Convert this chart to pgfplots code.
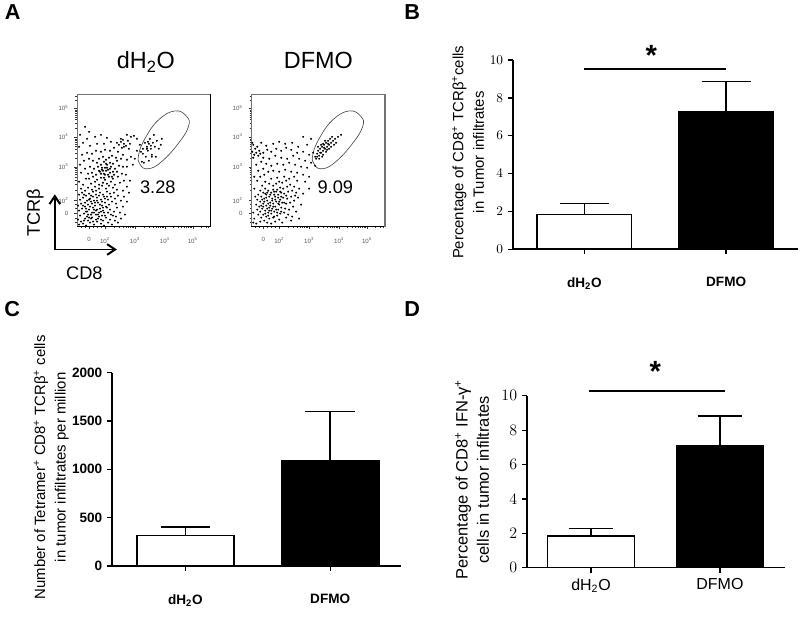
\documentclass[border=0pt]{standalone}
\usepackage{pgfplots}
\pgfplotsset{compat=1.18}
\usepackage{fontspec}
\setmainfont{Liberation Sans}
\usetikzlibrary{arrows.meta}
\newcommand{\subtwo}{\textsubscript{2}}
\newcommand{\sx}[1]{10\textsuperscript{#1}}
\pgfplotsset{
  barpanel/.style={
    scale only axis, axis lines*=left, axis line style={-,line width=1.1pt},
    clip=false, ymin=0, xtick={0,1},
    tick align=outside, major tick length=3.75pt, tick style={black,line width=1pt},
    xtick pos=bottom, ytick pos=left,
  },
  whitebar/.style={ybar,fill=white,draw=black},
  blackbar/.style={ybar,fill=black,draw=black},
  flow/.style={
    scale only axis, width=100.3pt, height=99.75pt,
    xmin=0,xmax=133.7,ymin=0,ymax=133,
    xtick={12,28,58,88,116}, xticklabels={0,\sx2,\sx3,\sx4,\sx5},
    ytick={13,26,60,90,119}, yticklabels={0,\sx2,\sx3,\sx4,\sx5},
    minor xtick={4,8,16,20,24,37,42,46,49,51,53,55,56,67,72,76,79,81,83,85,86,96,101,104,107,109,111,113,114,124,129,132},
    minor ytick={4,8,18,22,36,42,46,49,52,54,56,58,69,74,78,81,83,85,87,88,99,104,108,110,112,114,116,117,127,131},
    xtick pos=bottom, ytick pos=left, tick align=outside,
    major tick length=2pt, minor tick length=1.2pt,
    tick style={black!80,line width=0.35pt},
    axis line style={line width=0.5pt,black!55},
    tick label style={font=\fontsize{4.6}{5}\selectfont,text=black!65},
    xticklabel style={yshift=-2.6pt}, yticklabel style={xshift=-1pt},
    clip=false,
  },
  dots/.style={only marks,mark=*,mark size=0.52pt,mark options={draw=none,fill=black,fill opacity=0.72}},
}
\begin{document}
\begin{tikzpicture}[x=0.75pt,y=0.75pt]
\path (0,0) rectangle (800,619);
\coordinate (FA) at (75,393.7);
\coordinate (FB) at (249.7,393.7);
\coordinate (B) at (512,371);
\coordinate (C) at (110,53.3);
\coordinate (D) at (526,51.7);

% panel A, left
\begin{axis}[flow, at={(FA)}, anchor=south west]
\addplot[dots] coordinates {
(2,2)(6,3)(9,1)(13,4)(17,2)(20,5)(24,3)(27,1)(31,4)(35,2)(38,6)
(1,7)(4,5)(8,8)(11,6)(15,9)(19,7)(22,10)(26,6)(29,9)(33,7)(36,11)(41,4)
(3,11)(7,13)(10,10)(14,12)(17,14)(21,12)(24,15)(28,11)(31,14)(34,12)(39,10)(43,14)
(2,16)(5,18)(9,15)(12,17)(16,19)(19,16)(23,18)(26,16)(30,19)(33,17)(37,15)(40,19)
(1,21)(4,23)(8,20)(11,22)(14,25)(18,21)(21,24)(25,21)(28,24)(32,22)(35,25)(39,23)
(3,27)(6,29)(10,26)(13,28)(17,26)(20,29)(24,27)(27,30)(31,27)(34,30)(38,28)(44,26)
(2,32)(5,34)(9,31)(12,33)(16,35)(19,32)(23,34)(26,32)(30,35)(33,33)(37,34)(41,31)
(4,38)(8,36)(11,39)(15,37)(18,40)(22,38)(25,41)(29,38)(32,41)(36,39)(40,37)(46,36)
(7,6)(12,9)(16,5)(21,8)(25,11)(10,15)(15,14)(20,17)(27,14)(13,20)(18,24)(23,22)(29,20)(8,24)(12,27)(16,30)(22,31)(28,28)(6,21)(19,12)(14,8)(24,7)(11,12)(17,17)(22,14)(26,19)(9,18)(15,23)(20,26)(25,25)(7,32)(14,31)(19,36)(30,30)
(14,43)(18,45)(22,42)(26,44)(30,43)(34,45)(38,42)(43,44)(12,48)(16,50)(20,47)(24,49)(28,47)(32,50)(36,48)(41,50)(47,46)
(15,54)(19,52)(23,55)(27,53)(29,56)(33,54)(37,52)(40,55)(45,53)(17,58)(21,60)(25,57)(28,59)(31,57)(34,60)(38,58)(42,61)(13,60)
(20,64)(24,62)(27,65)(30,62)(33,64)(36,63)(40,66)(46,60)(22,68)(26,70)(29,67)(32,69)(35,71)(39,69)(44,68)
(28,52)(31,52)(26,56)(33,58)(30,59)(24,53)(36,55)(29,63)(25,59)(27,49)(22,56)(35,50)
(2,45)(6,42)(9,48)(4,54)(8,58)(11,53)(3,62)(7,66)(12,68)(16,66)(5,72)(10,74)(15,73)(19,76)(24,75)(28,77)(33,76)(37,79)(41,75)(46,72)(50,67)(2,80)(6,84)(13,81)(20,83)(27,83)(34,85)(40,84)(47,80)(52,78)(10,88)(18,90)(30,89)(44,88)(50,60)(49,52)(54,70)(56,62)(50,40)(53,46)(47,30)(50,25)(46,20)(48,12)(44,8)(52,34)
(3,92)(12,95)(24,92)(8,100)
(42,82)(45,79)(47,83)(44,85)(49,81)(46,87)(51,86)(54,90)(57,91)(60,88)(53,83)(50,92)(63,82)(66,73)(60,76)(70,78)(58,68)(75,70)(65,65)
(70,80)(72,83)(74,78)(68,84)(71,76)(76,84)(66,78)(73,88)(78,80)(80,86)(75,72)(69,70)(64,75)(82,78)(77,92)(72,66)(84,82)(67,64)(79,70)(74,81)(71,85)(70,78)(85,88)
};
\addplot[smooth cycle,tension=0.75,black!75,line width=0.45pt] coordinates {(98.3,116)(110,110.3)(111.7,100.3)(101.7,83.6)(85,65.3)(71.7,58)(63.3,62)(61.7,72)(68.3,88.6)(81.7,107)};
\draw[black,line width=0.5pt] (rel axis cs:0,0)--(rel axis cs:1,0)--(rel axis cs:1,1);
\end{axis}

% panel A, right
\begin{axis}[flow, at={(FB)}, anchor=south west]
\addplot[dots] coordinates {
(7,12)(10,9)(13,6)(16,4)(20,3)(24,5)(28,7)(31,4)(35,9)(6,17)(9,15)(12,12)(15,10)(18,8)(22,9)(26,11)(29,13)(33,14)(37,12)(41,10)
(5,22)(8,20)(11,18)(14,16)(17,14)(20,13)(23,15)(27,17)(30,19)(34,18)(38,17)(42,20)
(6,27)(9,25)(12,23)(15,21)(18,19)(21,18)(24,20)(28,22)(31,24)(35,23)(39,24)(43,26)
(7,32)(10,30)(13,28)(16,26)(19,24)(22,23)(25,25)(29,27)(32,29)(36,28)(40,30)(44,31)(47,29)
(9,36)(12,34)(15,32)(18,30)(21,28)(24,30)(27,32)(30,34)(33,33)(37,35)(41,36)(45,34)
(11,41)(14,38)(17,36)(20,34)(23,35)(26,37)(29,39)(32,38)(36,40)(39,42)(43,40)
(14,45)(18,43)(22,41)(25,43)(28,45)(31,44)(35,46)(38,48)(20,48)(26,49)(33,50)
(14,13)(17,11)(20,16)(23,10)(26,14)(12,20)(16,18)(19,21)(22,20)(25,17)(28,25)(13,25)(17,23)(21,26)(24,27)(27,23)(15,29)(19,32)(23,32)(27,29)(30,30)(16,34)(22,37)(25,35)(29,35)(11,27)(33,24)(35,31)(18,16)(14,33)(10,21)(30,15)
(2,4)(5,3)(9,5)(3,8)(2,14)(4,30)(3,38)(6,46)(9,50)(13,52)(40,6)(45,15)(50,22)(48,38)(52,33)(46,46)(43,50)(54,45)(58,38)(48,8)
(3,50)(7,56)(12,58)(17,55)(22,56)(28,55)(34,57)(40,55)(46,54)(52,52)(58,50)(5,62)(10,65)(15,63)(20,61)(26,63)(32,62)(38,64)(44,62)(50,60)(56,59)(2,69)(7,71)(12,69)(18,68)(24,71)(30,69)(36,68)(42,71)(48,68)(54,66)(60,64)(64,61)
(1,75)(4,78)(8,76)(12,74)(16,77)(20,75)(25,78)(30,76)(35,79)(40,77)(46,74)(52,75)(58,72)(2,82)(6,80)(10,84)(15,81)(22,83)(28,85)(34,83)(41,84)(47,80)(56,82)(3,72)(1,84)(5,74)(9,73)
(62,74)(66,70)(60,88)(52,90)
(64,70)(66,73)(68,71)(67,76)(70,74)(69,78)(72,76)(71,80)(74,78)(73,82)(76,80)(75,84)(78,82)(77,86)(80,84)(79,88)(82,86)(84,88)(87,90)(65,68)(68,68)(72,72)(75,75)(78,78)(80,80)(70,82)(74,86)(83,82)(85,84)(69,74)(73,79)(76,77)(72,83)(77,83)(67,80)(71,70)(90,92)(81,90)
};
\addplot[smooth cycle,tension=0.75,black!75,line width=0.45pt] coordinates {(98.3,116)(110,110.3)(111.7,100.3)(101.7,83.6)(85,65.3)(71.7,58)(63.3,62)(61.7,72)(68.3,88.6)(81.7,107)};
\draw[black,line width=0.5pt] (rel axis cs:0,0)--(rel axis cs:1,0);
\draw[black!55,line width=1.4pt] (rel axis cs:1,0)--(rel axis cs:1,1);
\end{axis}

% panel B
\begin{axis}[barpanel, at={(B)}, anchor=south west, width=214.5pt, height=142.3pt,
  xmin=-0.505, xmax=1.507, ymax=10, ytick={0,2,4,6,8,10},
  xticklabels={dH\subtwo O,DFMO},
  tick label style={font=\fontsize{10.2}{12}\selectfont\bfseries},
  xticklabel style={yshift=-14pt},
  ylabel={Percentage of CD8\textsuperscript{+} TCRβ\textsuperscript{+}cells\\in Tumor infiltrates},
  ylabel style={font=\fontsize{11.2}{15.5}\selectfont, align=center, at={(axis description cs:-0.157,0.512)}, anchor=center},
]
\addplot[whitebar, bar width=71pt, line width=1.3pt, error bars/.cd, y dir=plus, y explicit,
  error bar style={line width=1.1pt}, error mark options={rotate=90,mark size=18.4pt,line width=1.1pt}]
  coordinates {(0,1.84) +- (0,0.58)};
\addplot[blackbar, bar width=71pt, line width=1.3pt, error bars/.cd, y dir=plus, y explicit,
  error bar style={line width=1.1pt}, error mark options={rotate=90,mark size=18.4pt,line width=1.1pt}]
  coordinates {(1,7.27) +- (0,1.60)};
\addplot[black,line width=1.4pt,no marks] coordinates {(0,9.54)(1,9.54)};
\end{axis}

% panel C
\begin{axis}[barpanel, at={(C)}, anchor=south west, width=217.5pt, height=145.5pt,
  xmin=-0.507, xmax=1.49, ymax=2000, ytick={0,500,1000,1500,2000},
  yticklabels={0,500,1000,1500,2000},
  xticklabels={dH\subtwo O,DFMO},
  tick label style={font=\fontsize{10.2}{12}\selectfont\bfseries},
  xticklabel style={yshift=-14pt},
  ylabel={Number of Tetramer\textsuperscript{+} CD8\textsuperscript{+} TCRβ\textsuperscript{+} cells\\in tumor infiltrates per million},
  ylabel style={font=\fontsize{11.2}{15.5}\selectfont, align=center, at={(axis description cs:-0.21,0.51)}, anchor=center},
]
\addplot[whitebar, bar width=73pt, line width=1.3pt, error bars/.cd, y dir=plus, y explicit,
  error bar style={line width=1.1pt}, error mark options={rotate=90,mark size=18.6pt,line width=1.1pt}]
  coordinates {(0,316) +- (0,86)};
\addplot[blackbar, bar width=73pt, line width=1.3pt, error bars/.cd, y dir=plus, y explicit,
  error bar style={line width=1.1pt}, error mark options={rotate=90,mark size=18.6pt,line width=1.1pt}]
  coordinates {(1,1090) +- (0,505)};
\end{axis}

% panel D
\begin{axis}[barpanel, at={(D)}, anchor=south west, width=194.25pt, height=129.2pt,
  xmin=-0.498, xmax=1.505, ymax=10, ytick={0,2,4,6,8,10},
  xticklabels={dH\subtwo O,DFMO},
  yticklabel style={font=\fontsize{13}{15}\selectfont},
  xticklabel style={font=\fontsize{12}{14}\selectfont, yshift=-1pt},
  ylabel={Percentage of CD8\textsuperscript{+} IFN-γ\textsuperscript{+}\\cells in tumor infiltrates},
  ylabel style={font=\fontsize{12.4}{16}\selectfont, align=center, at={(axis description cs:-0.212,0.512)}, anchor=center},
]
\addplot[whitebar, bar width=65.5pt, line width=1.3pt, error bars/.cd, y dir=plus, y explicit,
  error bar style={line width=0.9pt}, error mark options={rotate=90,mark size=16.7pt,line width=0.9pt}]
  coordinates {(0,1.86) +- (0,0.42)};
\addplot[blackbar, bar width=65.5pt, line width=1.3pt, error bars/.cd, y dir=plus, y explicit,
  error bar style={line width=0.9pt}, error mark options={rotate=90,mark size=16.7pt,line width=0.9pt}]
  coordinates {(1,7.11) +- (0,1.72)};
\addplot[black,line width=1.2pt,no marks] coordinates {(-0.016,10.27)(1.04,10.27)};
\end{axis}

% annotations
\node[font=\fontsize{16.3}{18}\selectfont\bfseries] at (10.5,608.5) {A};
\node[font=\fontsize{16.3}{18}\selectfont\bfseries] at (411,609) {B};
\node[font=\fontsize{16.3}{18}\selectfont\bfseries] at (10,311) {C};
\node[font=\fontsize{16.3}{18}\selectfont\bfseries] at (411,311) {D};
\node[font=\fontsize{17.6}{20}\selectfont,anchor=base] at (144,552) {dH\subtwo O};
\node[font=\fontsize{17.6}{20}\selectfont,anchor=base] at (317,552) {DFMO};
\node[font=\fontsize{13.7}{16}\selectfont] at (156,433.3) {3.28};
\node[font=\fontsize{13.7}{16}\selectfont] at (334,433.3) {9.09};
\node[font=\fontsize{13.7}{16}\selectfont,rotate=90] at (33,407.3) {TCRβ};
\node[font=\fontsize{13.7}{16}\selectfont] at (82.3,347.3) {CD8};
\draw[line width=1.5pt,-{Straight Barb[length=6pt,width=8pt]}] (52.7,370.7)--(52.7,426);
\draw[line width=1.5pt,-{Straight Barb[length=6pt,width=8pt]}] (52.7,370.7)--(115,370.7);
\node[font=\fontsize{22}{24}\selectfont\bfseries] at (651,565) {*};
\node[font=\fontsize{22}{24}\selectfont\bfseries] at (655,248) {*};
\end{tikzpicture}
\end{document}
